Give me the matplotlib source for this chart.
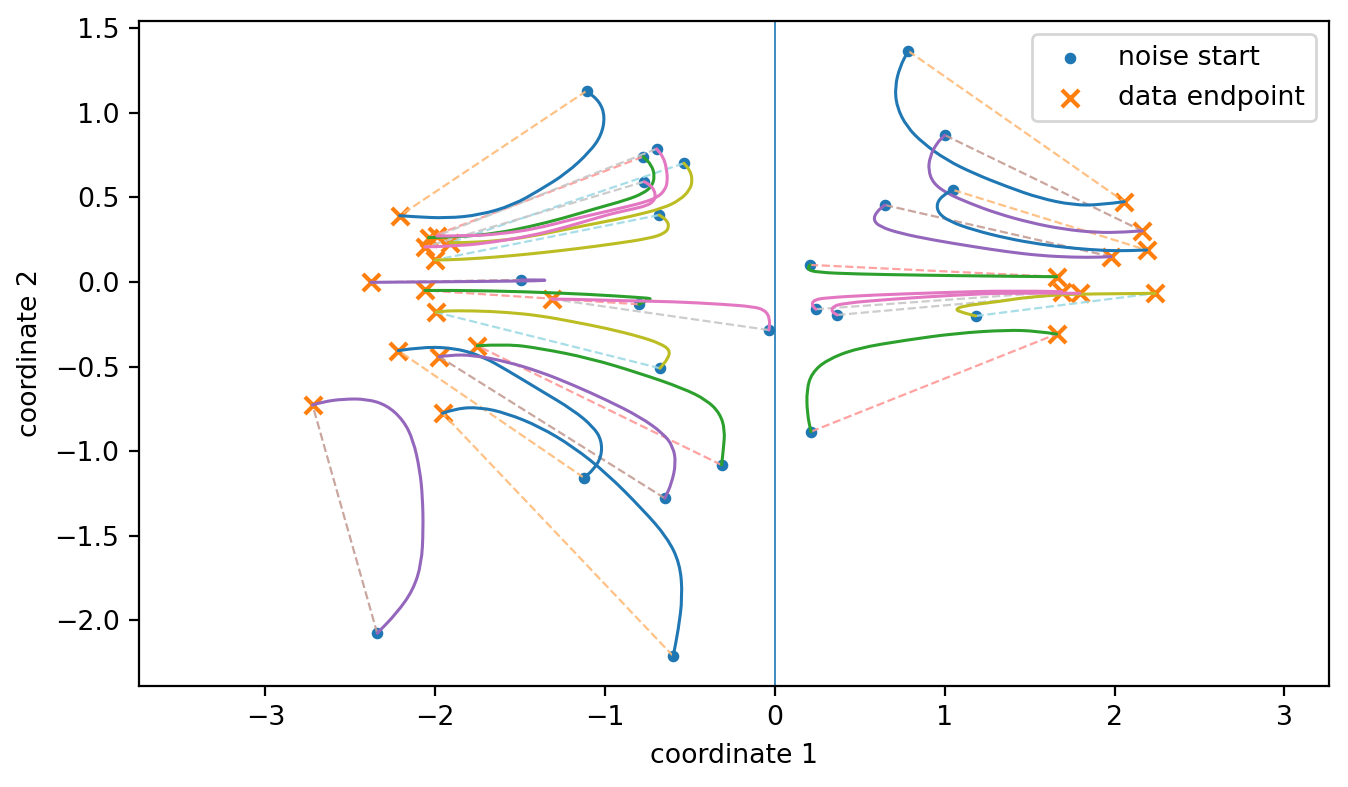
import matplotlib
matplotlib.use("Agg")
import matplotlib.pyplot as plt
from matplotlib.path import Path
from matplotlib.patches import PathPatch
import numpy as np

# ---- trajectories (data units) ----
# blue
tA_x = [-1.109, -1.031, -1.001, -1.021, -1.089, -1.227, -1.384, -1.541, -1.737, -1.933, -2.130, -2.210]
tA_y = [1.130, 1.066, 0.978, 0.869, 0.771, 0.643, 0.544, 0.455, 0.396, 0.377, 0.386, 0.392]
# green
tC_x = [-0.776, -0.726, -0.707, -0.726, -0.776, -0.873, -1.050, -1.246, -1.443, -1.639, -1.835, -2.040]
tC_y = [0.741, 0.692, 0.623, 0.564, 0.524, 0.485, 0.436, 0.377, 0.327, 0.288, 0.268, 0.262]
# purple
tG_x = [-1.496, -1.400, -1.341, -1.384, -1.737, -2.091, -2.379]
tG_y = [0.012, 0.012, 0.011, 0.007, 0.003, 0.000, -0.002]
# pink
tB_x = [-0.697, -0.658, -0.638, -0.632, -0.648, -0.687, -0.756, -0.873, -1.031, -1.207, -1.413, -1.620, -1.796, -1.991]
tB_y = [0.787, 0.741, 0.672, 0.593, 0.544, 0.504, 0.475, 0.445, 0.408, 0.367, 0.313, 0.284, 0.272, 0.272]
# olive
tD_x = [-0.536, -0.501, -0.485, -0.501, -0.559, -0.658, -0.854, -1.050, -1.247, -1.443, -1.639, -1.836, -1.914]
tD_y = [0.702, 0.662, 0.603, 0.544, 0.485, 0.436, 0.386, 0.347, 0.308, 0.268, 0.242, 0.232, 0.232]
# blue
tL_x = [-1.125, -1.070, -1.021, -1.021, -1.070, -1.188, -1.384, -1.580, -1.718, -1.875, -2.071, -2.218]
tL_y = [-1.157, -1.112, -1.033, -0.934, -0.856, -0.757, -0.639, -0.520, -0.442, -0.392, -0.383, -0.406]
# green
tH_x = [-0.801, -0.748, -0.726, -0.795, -1.089, -1.484, -1.873, -2.061]
tH_y = [-0.132, -0.106, -0.098, -0.092, -0.073, -0.057, -0.049, -0.050]
# purple
tM_x = [-0.648, -0.608, -0.583, -0.599, -0.658, -0.795, -0.991, -1.188, -1.384, -1.580, -1.777, -1.914, -1.977]
tM_y = [-1.279, -1.190, -1.072, -0.974, -0.895, -0.797, -0.698, -0.609, -0.530, -0.471, -0.432, -0.432, -0.442]
# pink
tE_x = [-0.770, -0.736, -0.711, -0.703, -0.717, -0.756, -0.834, -0.952, -1.031, -1.249, -1.443, -1.649, -1.855, -2.061]
tE_y = [0.593, 0.574, 0.544, 0.504, 0.475, 0.451, 0.432, 0.406, 0.384, 0.319, 0.272, 0.237, 0.213, 0.207]
# olive
tF_x = [-0.681, -0.638, -0.622, -0.648, -0.736, -0.952, -1.148, -1.345, -1.541, -1.737, -1.933, -2.002]
tF_y = [0.396, 0.367, 0.327, 0.288, 0.258, 0.225, 0.199, 0.176, 0.156, 0.140, 0.130, 0.130]
# blue
tO_x = [-0.599, -0.569, -0.544, -0.559, -0.638, -0.776, -0.991, -1.188, -1.384, -1.580, -1.737, -1.875, -1.957]
tO_y = [-2.212, -2.058, -1.861, -1.663, -1.506, -1.348, -1.131, -0.974, -0.856, -0.776, -0.741, -0.747, -0.776]
# green
tK_x = [-0.314, -0.304, -0.294, -0.324, -0.402, -0.540, -0.795, -1.089, -1.384, -1.580, -1.753]
tK_y = [-1.082, -0.993, -0.875, -0.776, -0.698, -0.629, -0.540, -0.451, -0.392, -0.367, -0.377]
# purple
tN_x = [-2.342, -2.228, -2.130, -2.081, -2.071, -2.075, -2.091, -2.130, -2.189, -2.287, -2.405, -2.542, -2.660, -2.723]
tN_y = [-2.077, -1.959, -1.821, -1.663, -1.467, -1.270, -1.112, -0.934, -0.816, -0.727, -0.692, -0.692, -0.708, -0.727]
# pink
tI_x = [-0.035, -0.029, -0.059, -0.128, -0.304, -0.599, -0.893, -1.188, -1.312]
tI_y = [-0.284, -0.215, -0.166, -0.146, -0.132, -0.116, -0.111, -0.102, -0.101]
# olive
tJ_x = [-0.677, -0.628, -0.618, -0.677, -0.795, -0.991, -1.188, -1.384, -1.580, -1.777, -1.973, -1.996]
tJ_y = [-0.510, -0.451, -0.402, -0.363, -0.323, -0.274, -0.235, -0.199, -0.179, -0.170, -0.171, -0.179]
# blue
tP_x = [0.785, 0.736, 0.707, 0.717, 0.776, 0.873, 1.011, 1.168, 1.365, 1.561, 1.757, 1.914, 2.057]
tP_y = [1.366, 1.273, 1.155, 1.037, 0.918, 0.820, 0.721, 0.643, 0.564, 0.495, 0.455, 0.455, 0.475]
# green
tT_x = [0.206, 0.190, 0.246, 0.481, 0.873, 1.266, 1.659]
tT_y = [0.101, 0.075, 0.057, 0.047, 0.040, 0.035, 0.031]
# purple
tQ_x = [1.001, 0.952, 0.913, 0.903, 0.932, 1.011, 1.148, 1.306, 1.502, 1.698, 1.895, 2.051, 2.163]
tQ_y = [0.868, 0.820, 0.741, 0.662, 0.584, 0.525, 0.465, 0.406, 0.351, 0.312, 0.292, 0.294, 0.302]
# pink
tU_x = [0.241, 0.216, 0.230, 0.304, 0.579, 0.972, 1.384, 1.688]
tU_y = [-0.161, -0.136, -0.106, -0.093, -0.077, -0.063, -0.051, -0.057]
# olive
tW_x = [1.182, 1.089, 1.064, 1.109, 1.266, 1.384, 1.443, 1.639, 1.796, 2.238]
tW_y = [-0.201, -0.176, -0.161, -0.142, -0.122, -0.106, -0.096, -0.077, -0.071, -0.067]
# blue
tR_x = [1.050, 0.991, 0.952, 0.962, 1.031, 1.168, 1.365, 1.561, 1.757, 1.953, 2.091, 2.189]
tR_y = [0.544, 0.514, 0.465, 0.406, 0.357, 0.308, 0.258, 0.223, 0.199, 0.185, 0.185, 0.189]
# green
tY_x = [0.212, 0.190, 0.187, 0.216, 0.304, 0.481, 0.776, 1.070, 1.365, 1.541, 1.659]
tY_y = [-0.885, -0.776, -0.639, -0.540, -0.461, -0.392, -0.343, -0.303, -0.284, -0.290, -0.308]
# purple
tS_x = [0.648, 0.599, 0.579, 0.618, 0.736, 0.932, 1.168, 1.365, 1.561, 1.757, 1.914, 1.979]
tS_y = [0.455, 0.416, 0.367, 0.327, 0.288, 0.248, 0.209, 0.179, 0.156, 0.146, 0.146, 0.150]
# pink
tV_x = [0.367, 0.334, 0.340, 0.402, 0.677, 1.070, 1.384, 1.796]
tV_y = [-0.195, -0.176, -0.146, -0.126, -0.102, -0.077, -0.063, -0.067]

trajectories = [
    (tA_x, tA_y), (tC_x, tC_y), (tG_x, tG_y), (tB_x, tB_y), (tD_x, tD_y),
    (tL_x, tL_y), (tH_x, tH_y), (tM_x, tM_y), (tE_x, tE_y), (tF_x, tF_y),
    (tO_x, tO_y), (tK_x, tK_y), (tN_x, tN_y), (tI_x, tI_y), (tJ_x, tJ_y),
    (tP_x, tP_y), (tT_x, tT_y), (tQ_x, tQ_y), (tU_x, tU_y), (tW_x, tW_y),
    (tR_x, tR_y), (tY_x, tY_y), (tS_x, tS_y), (tV_x, tV_y),
]

legend_labels = ["noise start", "data endpoint"]
x_label = "coordinate 1"
y_label = "coordinate 2"


def smooth_path(xs, ys):
    """Quadratic-Bezier path using the read points as control points."""
    pts = list(zip(xs, ys))
    verts = [pts[0]]
    codes = [Path.MOVETO]
    if len(pts) == 2:
        verts.append(pts[1]); codes.append(Path.LINETO)
        return Path(verts, codes)
    mid = lambda a, b: ((a[0] + b[0]) / 2, (a[1] + b[1]) / 2)
    verts.append(mid(pts[0], pts[1])); codes.append(Path.LINETO)
    for j in range(1, len(pts) - 1):
        end = mid(pts[j], pts[j + 1]) if j < len(pts) - 2 else pts[j + 1]
        verts += [pts[j], end]
        codes += [Path.CURVE3, Path.CURVE3]
    return Path(verts, codes)


# ---- drawing ----
plt.rcParams["font.size"] = 9.65
fig = plt.figure(figsize=(6.74, 3.935), dpi=200)
ax = fig.add_axes([0.1031, 0.1283, 0.8828, 0.8450])

tab20 = plt.get_cmap("tab20").colors
starts_x = [t[0][0] for t in trajectories]
starts_y = [t[1][0] for t in trajectories]
ends_x = [t[0][-1] for t in trajectories]
ends_y = [t[1][-1] for t in trajectories]

ax.scatter(starts_x, starts_y, s=10, color="#1f77b4", label=legend_labels[0], zorder=1)
ax.scatter(ends_x, ends_y, s=38, marker="x", color="#ff7f0e", linewidths=1.5,
           label=legend_labels[1], zorder=1)

for i, (tx, ty) in enumerate(trajectories):
    k = i % 5
    ax.plot([tx[0], tx[-1]], [ty[0], ty[-1]], "--", color=tab20[4 * k + 3],
            lw=0.8, alpha=0.9, zorder=2)
for i, (tx, ty) in enumerate(trajectories):
    k = i % 5
    ax.add_patch(PathPatch(smooth_path(tx, ty), facecolor="none",
                           edgecolor=tab20[4 * k], lw=1.1, zorder=2,
                           joinstyle="round", capstyle="round"))

ax.axvline(0, color="#1f77b4", lw=0.6)

ax.set_xlim(-3.745, 3.263)
ax.set_ylim(-2.389, 1.543)
ax.set_xticks([-3, -2, -1, 0, 1, 2, 3])
ax.set_yticks([-2.0, -1.5, -1.0, -0.5, 0.0, 0.5, 1.0, 1.5])
ax.set_xlabel(x_label)
ax.set_ylabel(y_label)
ax.legend(loc="upper right")

fig.savefig("out.png", dpi=200)
